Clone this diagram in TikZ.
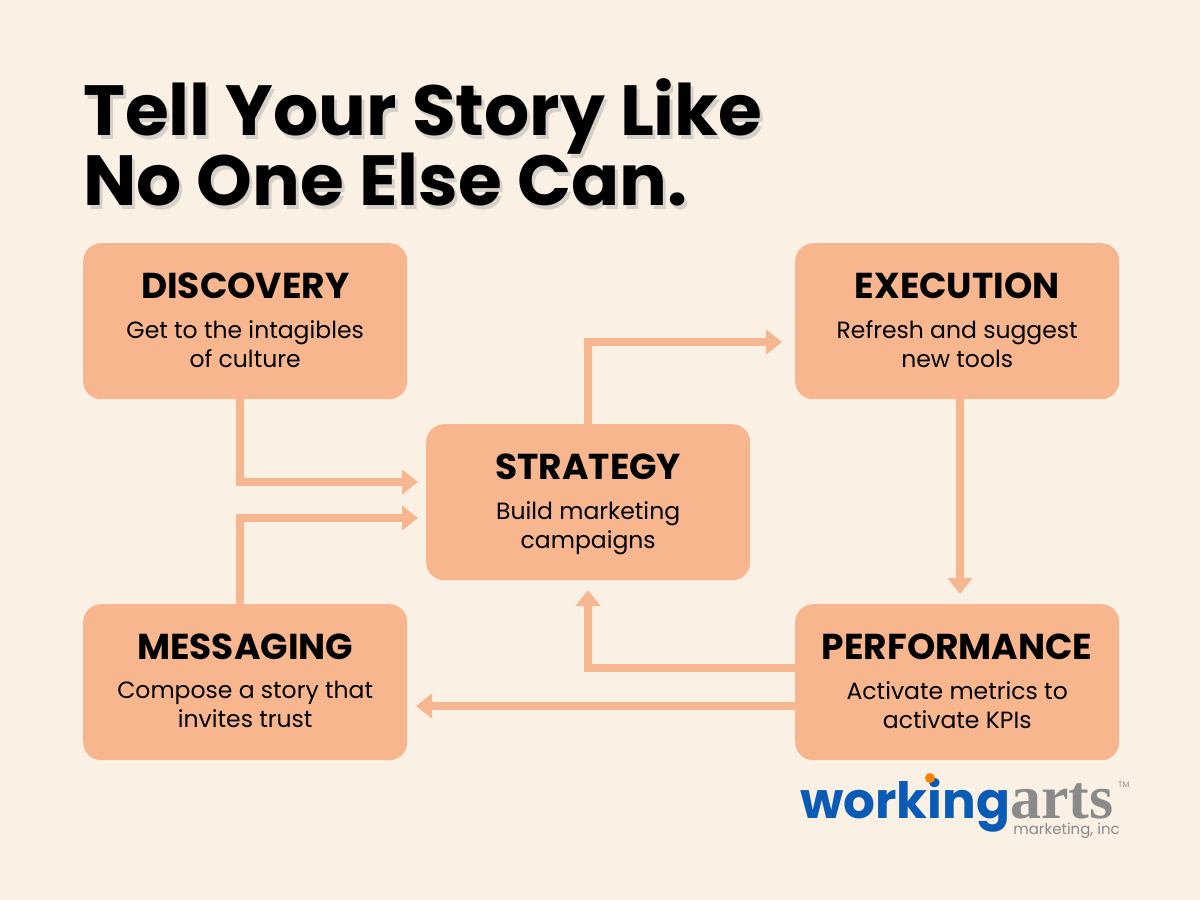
\documentclass[tikz,border=0pt]{standalone}
\usepackage{fontspec}
\setmainfont{Poppins}
\newfontfamily\serifarts{Liberation Serif}
\usetikzlibrary{arrows.meta}
\definecolor{bg}{HTML}{FBF0E4}
\definecolor{boxc}{HTML}{F7B68D}
\definecolor{arr}{HTML}{F6B690}
\definecolor{wblue}{HTML}{0A5BB5}
\definecolor{wgray}{HTML}{8A8A8A}
\tikzset{
 card/.style={fill=boxc,rounded corners=18pt,minimum width=324pt,minimum height=156pt,draw=none,anchor=north west},
 head/.style={font=\fontsize{36}{40}\selectfont\bfseries,anchor=base,inner sep=0},
 body/.style={font=\fontsize{23.5}{29}\selectfont,align=center,anchor=north,inner sep=0},
 flow/.style={draw=arr,line width=8pt,-{Triangle[length=16pt,width=24pt]}}
}
\begin{document}
\begin{tikzpicture}[x=1pt,y=-1pt]
\useasboundingbox[fill=bg] (0,0) rectangle (1200,900);
\node[anchor=base west,inner sep=0,font=\fontsize{71}{75}\selectfont\bfseries,text=black!30,opacity=0.5] at (86,139) {Tell Your Story Like};
\node[anchor=base west,inner sep=0,font=\fontsize{71}{75}\selectfont\bfseries,text=black!30,opacity=0.5] at (86,209) {No One Else Can.};
\node[anchor=base west,inner sep=0,font=\fontsize{71}{75}\selectfont\bfseries] (t1) at (83,135) {Tell Your Story Like};
\node[anchor=base west,inner sep=0,font=\fontsize{71}{75}\selectfont\bfseries] (t2) at (83,205) {No One Else Can.};
% arrows
\coordinate (a1) at (240,399); \coordinate (a1b) at (240,482); \coordinate (a1e) at (418,482);
\coordinate (a2) at (240,604); \coordinate (a2b) at (240,518); \coordinate (a2e) at (418,518);
\coordinate (a3) at (588,424); \coordinate (a3b) at (588,342); \coordinate (a3e) at (782,342);
\coordinate (a4) at (960,399); \coordinate (a4e) at (960,594);
\coordinate (a5) at (795,668); \coordinate (a5b) at (588,668); \coordinate (a5e) at (588,590);
\coordinate (a6) at (795,706); \coordinate (a6e) at (416,706);
\draw[flow] (a1) -- (a1b) -- (a1e);
\draw[flow] (a2) -- (a2b) -- (a2e);
\draw[flow] (a3) -- (a3b) -- (a3e);
\draw[flow] (a4) -- (a4e);
\draw[flow] (a5) -- (a5b) -- (a5e);
\draw[flow] (a6) -- (a6e);
% cards
\node[card] (d) at (83,243) {};
\node[card] (e) at (795,243) {};
\node[card] (s) at (426,424) {};
\node[card] (m) at (83,604) {};
\node[card] (p) at (795,604) {};
\foreach \n/\h/\b in {d/DISCOVERY/{Get to the intagibles\\of culture},e/EXECUTION/{Refresh and suggest\\new tools},s/STRATEGY/{Build marketing\\campaigns},m/MESSAGING/{Compose a story that\\invites trust},p/PERFORMANCE/{Activate metrics to\\activate KPIs}}{
 \node[head] (\n h) at ([yshift=-55pt]\n.north) {\h};
 \node[body] (\n b) at ([yshift=-77pt]\n.north) {\b};
}
% logo
\node[anchor=base west,inner sep=0,font=\fontsize{50}{50}\selectfont\bfseries,text=wblue] (lw) at (800,818) {working};
\node[anchor=base west,inner sep=0,font=\fontsize{62}{62}\selectfont\serifarts\bfseries,text=wgray] (la) at (lw.base east) {arts};
\node[anchor=base east,inner sep=0,font=\fontsize{15}{15}\selectfont,text=wgray] (lm) at (1120,834) {marketing, inc};
\node[anchor=north west,inner sep=0,font=\fontsize{8}{8}\selectfont,text=wgray] (tm) at (1118,782) {TM};
\fill[orange] (930,778) circle (5pt);
\end{tikzpicture}
\end{document}
